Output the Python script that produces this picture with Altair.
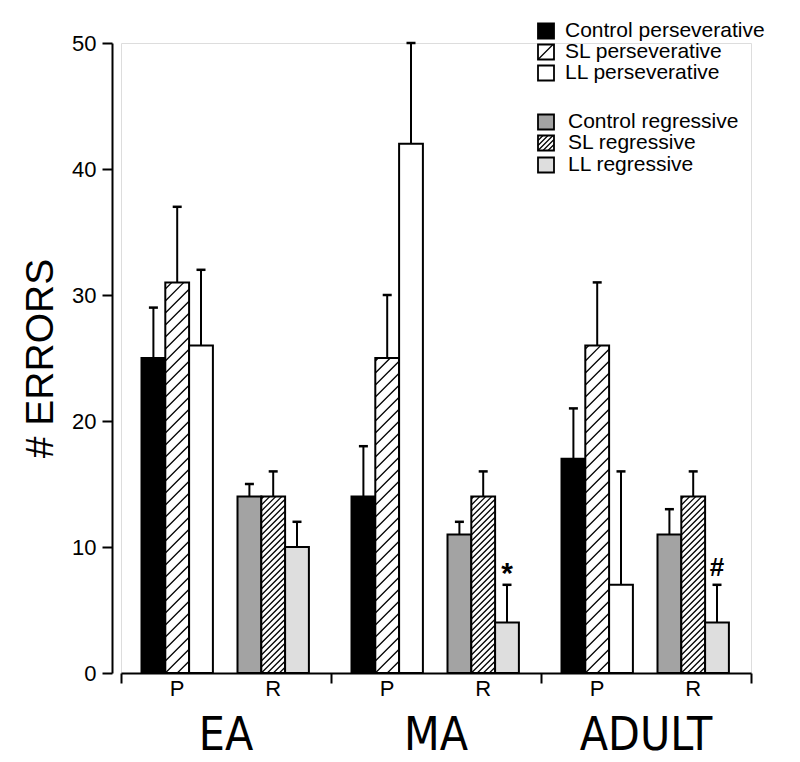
import altair as alt
import pandas as pd

# ---------------- data ----------------
groups = ["EA", "MA", "ADULT"]
subtypes = ["P", "R"]
series_p = ["Control perseverative", "SL perseverative", "LL perseverative"]
series_r = ["Control regressive", "SL regressive", "LL regressive"]

persev_mean = {"Control": [25, 14, 17], "SL": [31, 25, 26], "LL": [26, 42, 7]}
persev_err = {"Control": [4, 4, 4], "SL": [6, 5, 5], "LL": [6, 8, 9]}
regr_mean = {"Control": [14, 11, 11], "SL": [14, 14, 14], "LL": [10, 4, 4]}
regr_err = {"Control": [1, 1, 2], "SL": [2, 2, 2], "LL": [2, 3, 3]}
markers = [("MA", "R", "LL", "*"), ("ADULT", "R", "LL", "#")]
y_ticks = [0, 10, 20, 30, 40, 50]

# ---------------- layout / style ----------------
W, H = 630, 630
GROUP_W = 210.0
CLUSTER_OFF = {"P": 20.5, "R": 116.5}
BW = 23.8
PX = H / 50.0  # pixels per data unit
FILLS = {
    ("P", "Control"): "#000000", ("P", "SL"): "#ffffff", ("P", "LL"): "#ffffff",
    ("R", "Control"): "#a3a3a3", ("R", "SL"): "#ffffff", ("R", "LL"): "#dedede",
}
HATCH = {("P", "SL"): 12.0, ("R", "SL"): 6.0}
FONT = "Liberation Sans"

def hatch_segments(x0, x1, y0, y1, s):
    """Diagonal '/' lines clipped to a rect, all in pixel units (y up)."""
    segs = []
    c0 = y0 - x0
    k = 0
    while c0 + k * s > y0 - x1:
        k -= 1
    while True:
        c = c0 + k * s
        if c >= y1 - x0:
            break
        xa = max(x0, y0 - c)
        xb = min(x1, y1 - c)
        if xb - xa > 0.8:
            segs.append((xa, xa + c, xb, xb + c))
        k += 1
    return segs

bars, hatch_rows = [], []
for gi, g in enumerate(groups):
    for st in subtypes:
        means = persev_mean if st == "P" else regr_mean
        errs = persev_err if st == "P" else regr_err
        for si, s in enumerate(["Control", "SL", "LL"]):
            x0 = gi * GROUP_W + CLUSTER_OFF[st] + si * BW
            x1 = x0 + BW
            v = means[s][gi]
            e = errs[s][gi]
            bars.append(dict(x0=x0, x1=x1, xc=(x0 + x1) / 2, cap0=(x0 + x1) / 2 - 4.5,
                             cap1=(x0 + x1) / 2 + 4.5, value=v, top=v + e,
                             fill=FILLS[(st, s)], group=g, sub=st, series=s))
            if (st, s) in HATCH:
                for (xa, ya, xb, yb) in hatch_segments(x0, x1, 0, v * PX, HATCH[(st, s)]):
                    hatch_rows.append(dict(xa=xa, ya=ya / PX, xb=xb, yb=yb / PX))
bars_df = pd.DataFrame(bars)

mark_rows = []
for g, st, s, sym in markers:
    b = bars_df[(bars_df.group == g) & (bars_df["sub"] == st) & (bars_df.series == s)].iloc[0]
    mark_rows.append(dict(x=b.xc, y=b.top, sym=sym))
marks_df = pd.DataFrame(mark_rows)

sub_rows = []
for gi, g in enumerate(groups):
    for st in subtypes:
        sub_rows.append(dict(x=gi * GROUP_W + CLUSTER_OFF[st] + 1.5 * BW, label=st))
sub_df = pd.DataFrame(sub_rows)
grp_df = pd.DataFrame(dict(x=[(i + 0.5) * GROUP_W for i in range(3)], label=groups))

# legend (placed in plot coordinates)
leg_labels = series_p + series_r
leg_fill = [FILLS[("P", s)] for s in ["Control", "SL", "LL"]] + [FILLS[("R", s)] for s in ["Control", "SL", "LL"]]
leg_hatch = [0, 15.0, 0, 0, 5.0, 0]
leg_yc = [642, 621, 600, 551, 530, 508]
leg_tx = [444, 444, 444, 447, 447, 447]
LX0, LX1, LH = 417, 433, 15
leg_rows, leg_hatch_rows = [], []
for lab, f, hs, yc, tx in zip(leg_labels, leg_fill, leg_hatch, leg_yc, leg_tx):
    leg_rows.append(dict(label=lab, fill=f, x0=LX0, x1=LX1, y0=(yc - LH / 2) / PX,
                         y1=(yc + LH / 2) / PX, yc=yc / PX, tx=tx))
    if hs:
        for (xa, ya, xb, yb) in hatch_segments(LX0, LX1, yc - LH / 2, yc + LH / 2, hs):
            leg_hatch_rows.append(dict(xa=xa, ya=ya / PX, xb=xb, yb=yb / PX))
leg_df = pd.DataFrame(leg_rows)
leg_hatch_df = pd.DataFrame(leg_hatch_rows)
hatch_df = pd.DataFrame(hatch_rows)

# ---------------- scales / axes ----------------
xs = alt.Scale(domain=[0, 3 * GROUP_W], nice=False, zero=False)
ys = alt.Scale(domain=[0, 50], nice=False, zero=False)
xaxis = alt.Axis(values=[0, GROUP_W, 2 * GROUP_W, 3 * GROUP_W], labels=False, title=None,
                 tickSize=10, tickWidth=2, tickColor="black", domainColor="black",
                 domainWidth=2, grid=False)
yaxis = alt.Axis(values=y_ticks, title="# ERRORS", titleFont=FONT, titleFontSize=39,
                 titleFontWeight="normal", titleColor="black", titlePadding=11,
                 labelFont=FONT, labelFontSize=22, labelColor="black", labelPadding=6,
                 tickSize=10, tickWidth=2, tickColor="black", domainColor="black",
                 domainWidth=2, grid=False, offset=9)

def X(f):
    return alt.X(f, type="quantitative", scale=xs, axis=xaxis)

def Y(f):
    return alt.Y(f, type="quantitative", scale=ys, axis=yaxis)

base_bars = alt.Chart(bars_df)
rects = base_bars.mark_rect(stroke="black", strokeWidth=2).encode(
    x=X("x0"), x2="x1", y=Y("value"), y2=alt.datum(0), fill=alt.Fill("fill:N", scale=None))
hatch = alt.Chart(hatch_df).mark_rule(color="black", strokeWidth=1.3).encode(
    x=X("xa"), y=Y("ya"), x2="xb", y2="yb")
err = base_bars.mark_rule(color="black", strokeWidth=2).encode(x=X("xc"), y=Y("value"), y2="top")
caps = base_bars.mark_rule(color="black", strokeWidth=2.5).encode(x=X("cap0"), x2="cap1", y=Y("top"))
sig_star = alt.Chart(marks_df).transform_filter(alt.datum.sym == "*").mark_text(
    font=FONT, fontSize=30, fontWeight="bold", baseline="bottom", dy=4, color="black").encode(
    x=X("x"), y=Y("y"), text="sym:N")
sig_hash = alt.Chart(marks_df).transform_filter(alt.datum.sym == "#").mark_text(
    font=FONT, fontSize=26, fontWeight="bold", baseline="bottom", dy=-4, color="black").encode(
    x=X("x"), y=Y("y"), text="sym:N")
sub_lbl = alt.Chart(sub_df).mark_text(font=FONT, fontSize=22, baseline="middle", dy=16,
                                      color="black").encode(x=X("x"), y=alt.Y(datum=0, scale=ys, axis=yaxis), text="label:N")
grp_lbl = alt.Chart(grp_df).mark_text(font="Liberation Sans Narrow, DejaVu Sans Condensed, Liberation Sans",
                                      fontSize=46, baseline="middle", dy=63, color="black").encode(
    x=X("x"), y=alt.Y(datum=0, scale=ys, axis=yaxis), text="label:N")
leg_rect = alt.Chart(leg_df).mark_rect(stroke="black", strokeWidth=1.8).encode(
    x=X("x0"), x2="x1", y=Y("y0"), y2="y1", fill=alt.Fill("fill:N", scale=None))
leg_h = alt.Chart(leg_hatch_df).mark_rule(color="black", strokeWidth=1.3).encode(
    x=X("xa"), y=Y("ya"), x2="xb", y2="yb")
leg_txt = alt.Chart(leg_df).mark_text(font=FONT, fontSize=21, align="left", baseline="middle",
                                      color="black").encode(x=X("tx"), y=Y("yc"), text="label:N")

chart = alt.layer(rects, hatch, err, caps, sig_star, sig_hash, sub_lbl, grp_lbl, leg_rect, leg_h, leg_txt).properties(
    width=W, height=H, autosize=alt.AutoSizeParams(type="none"),
    padding={"left": 113, "top": 35, "right": 30, "bottom": 88},
).configure_view(stroke=None).configure(background="white")

chart.save("out.html", embed_options={"renderer": "svg", "actions": False})
